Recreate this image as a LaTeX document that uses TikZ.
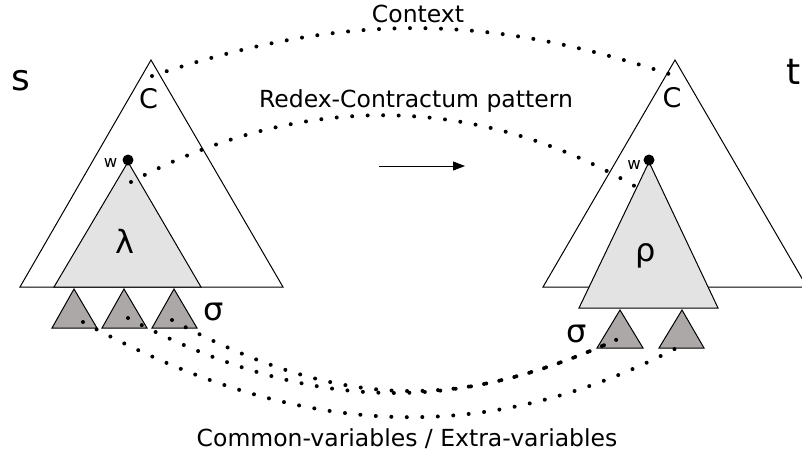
\documentclass[tikz,border=0pt]{standalone}
\usepackage{fontspec}
\setmainfont{DejaVu Sans}
\usetikzlibrary{arrows.meta}
\definecolor{lightfill}{RGB}{227,227,227}
\definecolor{varfill}{RGB}{172,168,168}
\begin{document}
\begin{tikzpicture}[x=1pt,y=-1pt,
  tri/.style={draw=black,line width=1pt,line join=miter},
  bigtri/.style={tri,fill=white},
  redextri/.style={tri,fill=lightfill},
  vartri/.style={tri,fill=varfill},
  dotline/.style={line width=4pt,line cap=round,dash pattern=on 0pt off 15.5pt},
  lbl/.style={inner sep=0pt,anchor=base,font=\fontsize{23.5}{28}\selectfont},
  biglbl/.style={inner sep=0pt,anchor=base,font=\fontsize{36}{40}\selectfont},
  clbl/.style={inner sep=0pt,anchor=base,font=\fontsize{27}{30}\selectfont},
  greek/.style={inner sep=0pt,anchor=base,font=\fontsize{32}{36}\selectfont},
  wlbl/.style={inner sep=0pt,anchor=base,font=\fontsize{16.5}{20}\selectfont},
  wdot/.style={circle,fill=black,inner sep=0pt,minimum size=11pt}
]
\useasboundingbox (0,0) rectangle (802,459);

% left term s
\coordinate (sTop) at (151,60); \coordinate (sBL) at (20,287); \coordinate (sBR) at (283,287);
\draw[bigtri] (sTop) -- (sBR) -- (sBL) -- cycle;
\coordinate (lamTop) at (128,162); \coordinate (lamBL) at (54,287); \coordinate (lamBR) at (201,287);
\draw[redextri] (lamTop) -- (lamBR) -- (lamBL) -- cycle;
\coordinate (v1T) at (74,289);  \coordinate (v1L) at (52,328);  \coordinate (v1R) at (97,328);
\coordinate (v2T) at (124,289); \coordinate (v2L) at (102,328); \coordinate (v2R) at (147,328);
\coordinate (v3T) at (174,289); \coordinate (v3L) at (152,328); \coordinate (v3R) at (197,328);
\draw[vartri] (v1T) -- (v1R) -- (v1L) -- cycle;
\draw[vartri] (v2T) -- (v2R) -- (v2L) -- cycle;
\draw[vartri] (v3T) -- (v3R) -- (v3L) -- cycle;

% right term t
\coordinate (tTop) at (675,60); \coordinate (tBL) at (543,287); \coordinate (tBR) at (807,287);
\draw[bigtri] (tTop) -- (tBR) -- (tBL) -- cycle;
\coordinate (rhoTop) at (649,162); \coordinate (rhoBL) at (579,308); \coordinate (rhoBR) at (718,308);
\draw[redextri] (rhoTop) -- (rhoBR) -- (rhoBL) -- cycle;
\coordinate (u1T) at (620,310); \coordinate (u1L) at (597,348); \coordinate (u1R) at (643,348);
\coordinate (u2T) at (682,310); \coordinate (u2L) at (659,348); \coordinate (u2R) at (704,348);
\draw[vartri] (u1T) -- (u1R) -- (u1L) -- cycle;
\draw[vartri] (u2T) -- (u2R) -- (u2L) -- cycle;

% positions w
\node[wdot] (wL) at (128,160) {};
\node[wdot] (wR) at (649,160) {};

% dotted correspondences
\coordinate (ctxS) at (152,76);  \coordinate (ctxT) at (678,77);
\coordinate (rcS) at (131,182);  \coordinate (rcT) at (643,191);
\coordinate (x1) at (83,322);    \coordinate (y2) at (686,343);
\coordinate (x2) at (128,318);   \coordinate (x3) at (172,320);
\coordinate (y1) at (618,339);
\draw[dotline] (ctxS) .. controls (344,12) and (486,12) .. (ctxT);
\draw[dotline] (rcS) .. controls (289,98) and (466,85) .. (rcT);
\draw[dotline] (x1) .. controls (289,435) and (480,454) .. (y2);
\draw[dotline] (x2) .. controls (330,425) and (474,404) .. (y1);
\draw[dotline] (x3) .. controls (350,416) and (467,407) .. (y1);

% rewrite arrow
\coordinate (arS) at (379,166); \coordinate (arE) at (465,166);
\draw[line width=1pt,-{Triangle[length=12pt,width=9pt]}] (arS) -- (arE);

% labels
\node[lbl] (ctx) at (418,22) {Context};
\node[lbl] (rcp) at (416,107) {Redex-Contractum pattern};
\node[lbl] (cev) at (407,446) {Common-variables / Extra-variables};
\node[biglbl] (sl) at (21,90) {s};
\node[biglbl] (tl) at (794,84) {t};
\node[clbl] (cL) at (148.5,108) {C};
\node[clbl] (cR) at (672,107) {C};
\node[greek] (lam) at (125,253) {λ};
\node[greek] (rho) at (646,261) {ρ};
\node[greek] (sigL) at (214,320) {σ};
\node[greek] (sigR) at (577,342) {σ};
\node[wlbl] (wlL) at (110.5,167) {w};
\node[wlbl] (wlR) at (634,169) {w};
\end{tikzpicture}
\end{document}
